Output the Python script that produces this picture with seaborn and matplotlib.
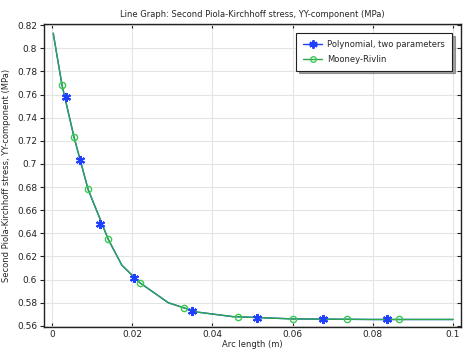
import matplotlib
matplotlib.use("Agg")
import matplotlib.pyplot as plt
import seaborn as sns

# Curve nodes (arc length in m, stress in MPa)
line_x = [0.0003, 0.0025, 0.0055, 0.009, 0.014, 0.0174, 0.022, 0.029, 0.036, 0.045, 0.06, 0.08, 0.1]
line_y = [0.813, 0.768, 0.723, 0.678, 0.635, 0.6125, 0.597, 0.580, 0.572, 0.568, 0.566, 0.5655, 0.5655]

# Marker positions
poly_x = [0.0035, 0.007, 0.012, 0.0205, 0.035, 0.051, 0.0675, 0.0835]
poly_y = [0.758, 0.703, 0.648, 0.601, 0.573, 0.567, 0.566, 0.566]
mr_x = [0.0025, 0.0055, 0.009, 0.014, 0.022, 0.033, 0.0465, 0.06, 0.0735, 0.0865]
mr_y = [0.768, 0.723, 0.678, 0.635, 0.597, 0.575, 0.568, 0.566, 0.566, 0.566]

blue = "#2040ff"
green = "#2aa84a"
green_mk = "#3cc850"
fs = 6

sns.set_theme(style="whitegrid")
plt.rcParams['font.family'] = ['DejaVu Sans']

fig = plt.figure(figsize=(4.77, 3.57), dpi=100)
ax = fig.add_axes([44 / 477, 1 - 327 / 357, (461 - 44) / 477, (327 - 24) / 357])

sns.lineplot(x=line_x, y=line_y, ax=ax, color=blue, lw=1.0, sort=False)
sns.lineplot(x=line_x, y=line_y, ax=ax, color=green, lw=1.0, sort=False)
ax.plot(poly_x, poly_y, ls="none", marker=(6, 2, 0), ms=6.5, mew=1.5, color=blue)
ax.plot(mr_x, mr_y, ls="none", marker="o", ms=4.5, mfc="none", mew=1.0, color=green_mk)

# legend proxies
ax.plot([], [], color=blue, lw=1.0, marker=(6, 2, 0), ms=6, mew=1.4, label="Polynomial, two parameters")
ax.plot([], [], color=green, lw=1.0, marker="o", ms=4, mfc="none", mec=green_mk, label="Mooney-Rivlin")

ax.set_xlim(-0.002, 0.102)
ax.set_ylim(0.559, 0.821)
ax.set_xticks([0, 0.02, 0.04, 0.06, 0.08, 0.1])
ax.set_xticklabels(["0", "0.02", "0.04", "0.06", "0.08", "0.1"])
ax.set_yticks([0.56, 0.58, 0.6, 0.62, 0.64, 0.66, 0.68, 0.7, 0.72, 0.74, 0.76, 0.78, 0.8, 0.82])
ax.set_yticklabels(["0.56", "0.58", "0.6", "0.62", "0.64", "0.66", "0.68", "0.7",
                    "0.72", "0.74", "0.76", "0.78", "0.8", "0.82"])
ax.tick_params(labelsize=fs + 0.5, colors="#222222", length=3, width=0.8, pad=2,
               direction="in", right=True, top=True, left=True, bottom=True)
ax.tick_params(axis="y", which="both", direction="out")
for t in ax.yaxis.get_major_ticks():
    t.tick2line.set_marker(matplotlib.lines.TICKLEFT)
ax.grid(color="#e4e4e4", lw=0.8)
for s in ax.spines.values():
    s.set_color("#222222")
    s.set_linewidth(1.0)

ax.set_title("Line Graph: Second Piola-Kirchhoff stress, YY-component (MPa)", fontsize=fs, pad=5)
ax.set_xlabel("Arc length (m)", fontsize=fs, labelpad=1)
ax.set_ylabel("Second Piola-Kirchhoff stress, YY-component (MPa)", fontsize=fs, labelpad=4)

leg = ax.legend(loc="upper right", bbox_to_anchor=(0.978, 0.97), borderaxespad=0, fontsize=fs,
                frameon=True, fancybox=False, shadow=True, borderpad=0.8, handlelength=2.3,
                handletextpad=0.6, labelspacing=0.75)
leg.get_frame().set_edgecolor("#222222")
leg.get_frame().set_linewidth(0.8)

fig.savefig("out.png", dpi=100)
